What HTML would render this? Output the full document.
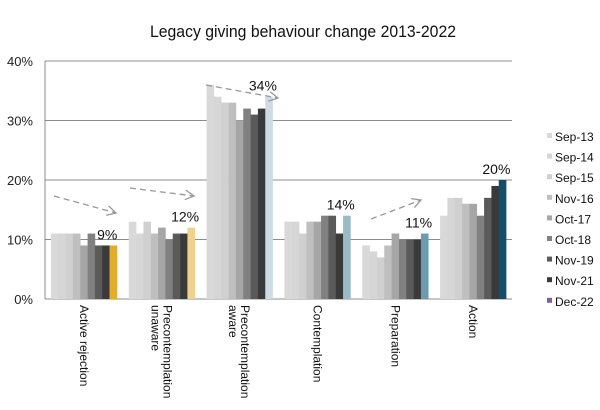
<!DOCTYPE html>
<html><head><meta charset="utf-8"><style>
html,body{margin:0;padding:0;background:#fff;}
svg{display:block;font-family:"Liberation Sans",sans-serif;}
</style></head><body>
<svg id="chart" width="600" height="410" viewBox="0 0 600 410" xmlns="http://www.w3.org/2000/svg">
<text x="303" y="37" text-anchor="middle" font-size="17" fill="#111" textLength="306" lengthAdjust="spacingAndGlyphs">Legacy  giving behaviour change  2013-2022</text>
<g id="grid"></g><g id="bars"></g><g id="labels"></g><g id="legend"></g><g id="arrows"></g>
</svg>
<script>
const categories = [["Active rejection"],["Precontemplation","unaware"],["Precontemplation","aware"],["Contemplation"],["Preparation"],["Action"]];
const seriesNames = ["Sep-13","Sep-14","Sep-15","Nov-16","Oct-17","Oct-18","Nov-19","Nov-21","Dec-22"];
const values = [
 [11,11,11,11,9,11,9,9,9],
 [13,11,13,11,12,10,11,11,12],
 [36,34,33,33,30,32,31,32,34],
 [13,13,11,13,13,14,14,11,14],
 [9,8,7,9,11,10,10,10,11],
 [14,17,17,16,16,14,17,19,20]
];
const yTicks = [0,10,20,30,40];
const seriesColors = ["#d9d9d9","#d6d6d6","#d0d0d0","#bfbfbf","#a6a6a6","#808080","#5a5a5a","#3a3a3a","#7f5f9f"];
const highlightColors = ["#e3ad2b","#f0d28c","#cddbe3","#9bbac7","#6a9bb0","#154d6b"];

const NS="http://www.w3.org/2000/svg";
const X0=45,X1=512,Y0=299,Y1=61,YMAX=40;
const gw=(X1-X0)/categories.length;
const bw=gw*0.848/seriesNames.length;
function y(v){return Y0-(v/YMAX)*(Y0-Y1);}
function gx(i){return X0+i*gw;}
function mk(tag,attrs,parent){const e=document.createElementNS(NS,tag);for(const k in attrs)e.setAttribute(k,attrs[k]);parent.appendChild(e);return e;}
const grid=document.getElementById('grid'),bars=document.getElementById('bars'),labels=document.getElementById('labels'),legend=document.getElementById('legend'),arrows=document.getElementById('arrows');

yTicks.forEach(t=>{
 const l=mk('line',{x1:X0,x2:X1,y1:y(t),y2:y(t),stroke:'#8c8c8c','stroke-width':1},grid);
 
 
 const tx=mk('text',{x:33,y:y(t)+5,'text-anchor':'end','font-size':13,fill:'#222'},grid);
 tx.textContent=t+'%';
 
 
});
const ax=mk('line',{x1:X0,x2:X0,y1:Y1,y2:Y0,stroke:'#8c8c8c'},grid);



values.forEach((row,i)=>{
 const start=gx(i)+(gw-bw*seriesNames.length)/2;
 row.forEach((v,j)=>{
  const c=j===seriesNames.length-1?highlightColors[i]:seriesColors[j];
  const r=mk('rect',{x:start+j*bw,y:y(v),width:bw+0.3,height:Y0-y(v),fill:c},bars);
  
  
 });
 const last=row[row.length-1];
 const vl=mk('text',{x:start+(seriesNames.length-1)*bw+bw/2-6,y:y(last)-6,'text-anchor':'middle','font-size':14,fill:'#111'},bars);
 vl.textContent=last+'%';
 
 
 const cx=gx(i)+gw/2;
 const n=categories[i].length;
 const t=mk('text',{transform:`translate(${cx+(n-1)*5.5},305) rotate(90)`,'font-size':12,fill:'#111'},labels);
 
 
 categories[i].forEach((s,k)=>{const ts=mk('tspan',{x:0,dy:k===0?4:12},t);ts.textContent=s;});
});

seriesNames.forEach((s,j)=>{
 const yy=137+j*20.6;
 const r=mk('rect',{x:547,y:yy-4,width:5,height:5,fill:seriesColors[j]},legend);
 
 
 const t=mk('text',{x:555,y:yy+4,'font-size':12,fill:'#111'},legend);
 t.textContent=s;
 
 
});

[[54,196,116,213],[130,188,194,196],[206,85,278,98],[371,219,421,200]].forEach(a=>{
 const l=mk('line',{x1:a[0],y1:a[1],x2:a[2],y2:a[3],stroke:'#999','stroke-width':1.3,'stroke-dasharray':'6,4'},arrows);
 
 
 const ang=Math.atan2(a[3]-a[1],a[2]-a[0]);
 const p=(d)=>[a[2]-10*Math.cos(ang+d),a[3]-10*Math.sin(ang+d)];
 const p1=p(0.5),p2=p(-0.5);
 const h=mk('polyline',{points:`${p1} ${a[2]},${a[3]} ${p2}`,fill:'none',stroke:'#999','stroke-width':1.3},arrows);
 
 
});
</script>
</body></html>
